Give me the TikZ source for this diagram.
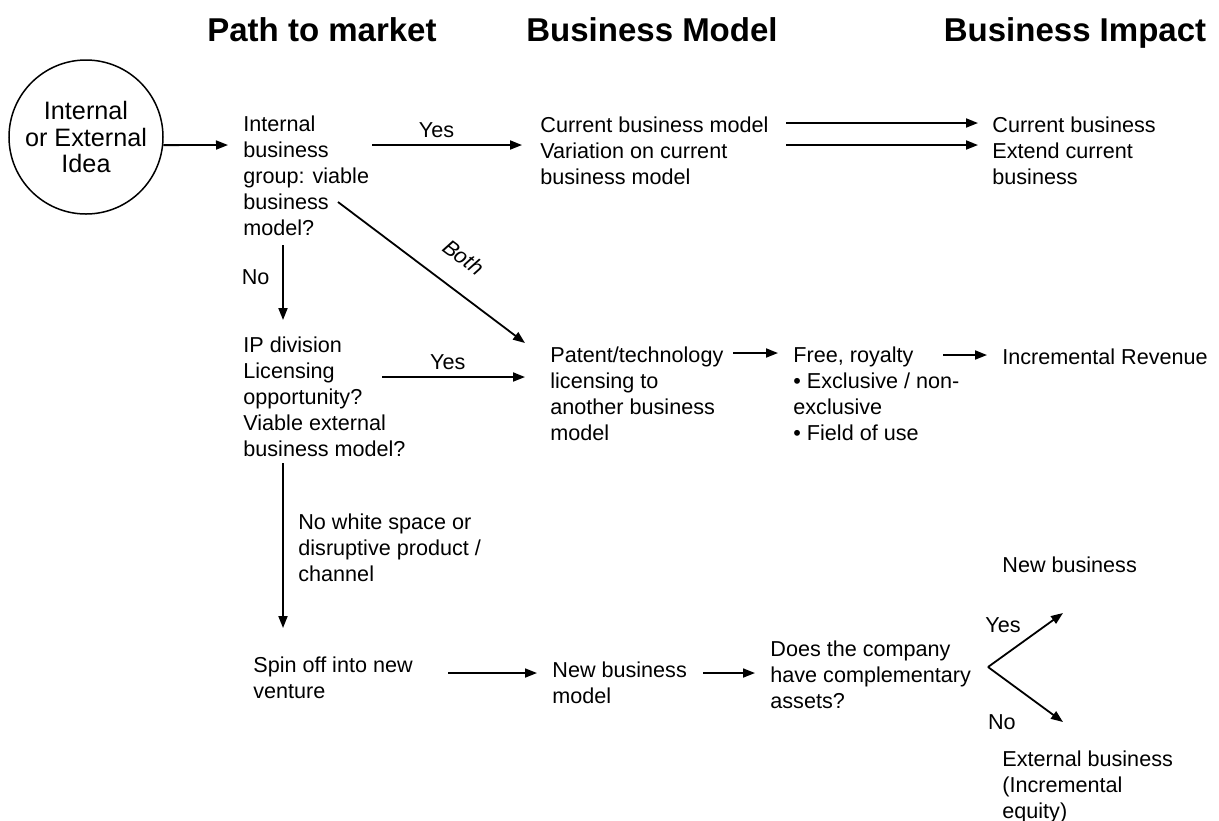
\documentclass[tikz,border=0pt]{standalone}
\usepackage{fontspec}
\setmainfont{Liberation Sans}
\usetikzlibrary{arrows.meta, calc, positioning}

\begin{document}
\begin{tikzpicture}[x=0.5pt, y=-0.5pt]
\tikzstyle{txt} = [anchor=north west, inner sep=0pt, align=left, font=\fontsize{10.8pt}{13pt}\selectfont]
\tikzstyle{heading} = [anchor=base, font=\fontsize{16.5pt}{19pt}\selectfont\bfseries]
\tikzstyle{lbl} = [font=\fontsize{10.8pt}{13pt}\selectfont]
\tikzstyle{arr} = [-{Triangle[length=6pt, width=4.5pt]}, line width=0.9pt]

\useasboundingbox (0,0) rectangle (1219,820);

% Column headings
\node (hpath) [heading] at (322,41) {Path to market};
\node (hmodel) [heading] at (652,41) {Business Model};
\node (himpact) [heading] at (1075,41) {Business Impact};

\node (idea) [circle, draw, line width=0.75pt, minimum size=77pt, inner sep=0pt, align=center, font=\fontsize{12.6pt}{13.4pt}\selectfont] at (86,137) {Internal\\or External\\Idea};

\node (intgrp) [txt] at (243,115) {Internal\\business\\group: viable\\business\\model?};
\node (curbm) [txt] at (540,116) {Current business model\\Variation on current\\business model};
\node (curbiz) [txt] at (992,116) {Current business\\Extend current\\business};

\node (ipdiv) [txt] at (243,336) {IP division\\Licensing\\opportunity?\\Viable external\\business model?};
\node (patent) [txt] at (550,346) {Patent/technology\\licensing to\\another business\\model};
\node (free) [txt] at (793,346) {Free, royalty\\• Exclusive / non-\\exclusive\\• Field of use};
\node (increv) [txt] at (1002,348) {Incremental Revenue};

\node (nwslbl) [txt] at (298,513) {No white space or\\disruptive product /\\channel};

\node (spinoff) [txt] at (253,656) {Spin off into new\\venture};
\node (newbm) [txt] at (552,661) {New business\\model};
\node (compl) [txt] at (770,640) {Does the company\\have complementary\\assets?};
\node (newbiz) [txt] at (1002,556) {New business};
\node (extbiz) [txt] at (1002,750) {External business\\(Incremental\\equity)};

% Draw arrows
\draw[arr] (idea.-6) -- ($(intgrp.north west)+(-15,30)$);
\draw[arr] ($(intgrp.north west)+(129,30)$) -- node[lbl, pos=0.43, above] (yes1) {Yes} ($(curbm.north west)+(-18,29)$);
\foreach \dy in {7,29} {
    \draw[arr] ($(curbm.north west)+(246,\dy)$) -- ($(curbiz.north west)+(-14,\dy)$);
}
\draw[arr] ($(intgrp.north west)+(95,87)$) -- node[lbl, pos=0.57, sloped, above=8pt, font=\fontsize{10.8pt}{13pt}\selectfont\itshape] (both) {Both} ($(patent.north west)+(-25,-3)$);
\draw[arr] ($(intgrp.north west)+(40,130)$) -- node[lbl, pos=0.43, left=3pt] (no1) {No} ($(ipdiv.north west)+(40,-16)$);
\draw[arr] ($(ipdiv.north west)+(139,41)$) -- node[lbl, pos=0.46, above] (yes2) {Yes} ($(patent.north west)+(-25,31)$);
\draw[arr] ($(patent.north west)+(183,7)$) -- ($(free.north west)+(-15,7)$);
\draw[arr] ($(free.north west)+(150,9)$) -- ($(increv.north west)+(-15,7)$);
\draw[arr] ($(ipdiv.north west)+(40,127)$) -- ($(spinoff.north west)+(30,-28)$);
\draw[arr] ($(spinoff.north west)+(195,17)$) -- ($(newbm.north west)+(-15,12)$);
\draw[arr] ($(newbm.north west)+(151,12)$) -- ($(compl.north west)+(-15,33)$);

\coordinate (fork) at ($(compl.north west)+(218,27)$);
\draw[arr] (fork) -- node[lbl, pos=0.2, above=8pt] (yes3) {Yes} ($(newbiz.north west)+(61,57)$);
\draw[arr] (fork) -- node[lbl, pos=0.55, below left=5pt and 3pt] (no2) {No} ($(extbiz.north west)+(61,-28)$);

\end{tikzpicture}
\end{document}
